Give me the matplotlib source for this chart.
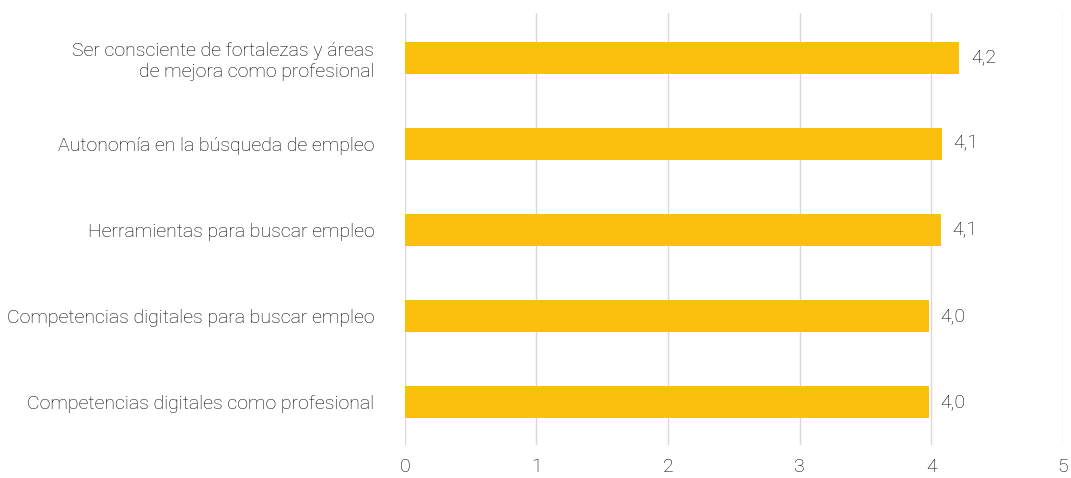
import matplotlib.pyplot as plt

labels = ["Ser consciente de fortalezas y áreas\nde mejora como profesional",
          "Autonomía en la búsqueda de empleo",
          "Herramientas para buscar empleo",
          "Competencias digitales para buscar empleo",
          "Competencias digitales como profesional"]
values = [4.21, 4.08, 4.07, 3.98, 3.98]
value_text = ["4,2", "4,1", "4,1", "4,0", "4,0"]
ticks = [0, 1, 2, 3, 4, 5]

plt.rcParams['font.family'] = ['Roboto', 'DejaVu Sans']
txt = '#000000'

fig = plt.figure(figsize=(10.71, 4.78), dpi=100)
ax = fig.add_axes([0.378, 0.069, 0.6145, 0.904])

ypos = list(range(len(labels)))
ax.barh(ypos, values, height=0.37, color='#FBC00E', zorder=3)
for y, v, t in zip(ypos, values, value_text):
    ax.text(v + 0.09, y, t, va='center', ha='left', fontsize=14,
            color=txt, weight='light')

ax.set_xlim(0, 5)
ax.set_ylim(4.5, -0.52)
ax.set_xticks(ticks)
ax.set_xticklabels([str(t) for t in ticks], weight='light')
ax.set_yticks(ypos)
ax.set_yticklabels(labels, weight='light', linespacing=1.25)
ax.grid(axis='x', color='#D9D9D9', lw=1, zorder=0)
for s in ax.spines.values():
    s.set_visible(False)
ax.tick_params(axis='both', length=0, labelsize=14, colors=txt)
ax.tick_params(axis='x', pad=9)
ax.tick_params(axis='y', pad=22)

fig.savefig('out.png', dpi=100)
